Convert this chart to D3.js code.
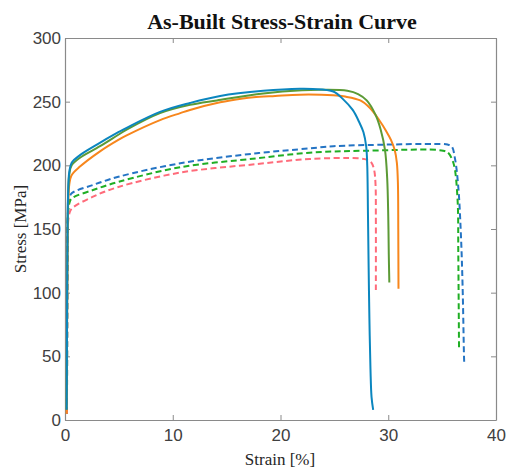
<!DOCTYPE html>
<html>
<head>
<meta charset="utf-8">
<script src="https://cdn.jsdelivr.net/npm/d3@7"></script>
<style>
  html, body { margin: 0; padding: 0; background: #fff; }
  svg { display: block; }
</style>
</head>
<body>
<div id="chart"></div>
<script>
// ---- Data (strain in %, stress in MPa) ----
const xTicks = [0, 10, 20, 30, 40];
const yTicks = [0, 50, 100, 150, 200, 250, 300];

const blueSolid = [[0.15,8],[0.18,60],[0.22,130],[0.28,175],[0.4,195],[0.62,202],[1.39,208],[3,216.5],[4.95,226],[5.72,229.5],[8.82,242],[11.6,249],[14.4,254.5],[18.4,258.5],[21.8,260.2],[23,260],[24.9,258],[25.8,252],[26.7,243.5],[27.3,234],[27.7,226],[27.95,215],[28.05,200],[28.12,160],[28.18,120],[28.25,80],[28.35,40],[28.45,18],[28.6,8]];
const greenSolid = [[0.15,8],[0.18,60],[0.22,130],[0.28,172],[0.4,193],[0.62,200],[1.39,206],[3.25,215],[4.95,224],[5.72,228],[8.82,241],[11.6,247.5],[14.1,251],[18.4,256.5],[22,259],[24,259.3],[26.2,258.5],[27.2,256],[28,251],[28.8,240],[29.3,228],[29.7,212],[29.9,190],[30,160],[30.05,130],[30.1,108]];
const orangeSolid = [[0.15,5],[0.18,50],[0.22,120],[0.3,170],[0.4,185],[0.6,192],[1.39,199],[3.25,211],[4.95,220],[5.72,223.5],[8.82,235.5],[10.7,241],[11.6,243.5],[14.4,249.5],[16.5,252.5],[17.5,253.5],[19.5,254.5],[21.8,255.5],[24.9,255],[26,254],[27.4,251],[28.3,245],[29.2,235],[29.8,227],[30.25,220],[30.6,212],[30.8,202],[30.9,185],[30.93,150],[30.95,103]];
const blueDashed = [[0.18,5],[0.2,60],[0.22,120],[0.26,160],[0.4,174],[0.62,178],[2.6,184.6],[4.95,191],[10.7,201.6],[17.8,209.5],[22.7,213.3],[24.9,215],[30,216.3],[34.2,216.8],[35.5,216.3],[35.9,214.7],[36.2,205],[36.5,183],[36.75,144],[36.9,105],[37.03,50],[37.05,45]];
const greenDashed = [[0.18,5],[0.2,60],[0.22,120],[0.26,157],[0.4,170],[0.62,174],[2.6,180.6],[4.95,187],[10.7,198.5],[17.8,205.5],[22.7,209.9],[28,211.5],[35.1,211.5],[35.6,209.5],[36,203],[36.2,196],[36.45,170],[36.5,131],[36.57,55]];
const redDashed = [[0.18,5],[0.2,60],[0.22,120],[0.26,152],[0.4,162],[0.62,166],[2.6,175.4],[4.95,183],[10.7,194.3],[17.8,201],[22.7,205],[27.2,205.5],[28,204.5],[28.45,202],[28.7,196],[28.82,185],[28.85,160],[28.85,102]];

const series = [
  {name: "blueDashed", data: blueDashed, color: "#2474c4", dash: "6,3.5"},
  {name: "greenDashed", data: greenDashed, color: "#1fae24", dash: "6,3.5"},
  {name: "redDashed", data: redDashed, color: "#ff6b7a", dash: "6,3.5"},
  {name: "orangeSolid", data: orangeSolid, color: "#f7861c", dash: null},
  {name: "greenSolid", data: greenSolid, color: "#5c9a36", dash: null},
  {name: "blueSolid", data: blueSolid, color: "#0b86bf", dash: null}
];

const W = 506, H = 468;
const m = {left: 65, right: 10, top: 38, bottom: 48};
const x = d3.scaleLinear().domain([0, 40]).range([m.left, W - m.right]);
const y = d3.scaleLinear().domain([0, 300]).range([H - m.bottom, m.top]);

const svg = d3.select("#chart").append("svg").attr("width", W).attr("height", H);
svg.append("rect").attr("width", W).attr("height", H).attr("fill", "#fff");

const axisColor = "#8a8a8a";
const tickColor = "#404040";
const tickLen = 5;

const gx = svg.append("g").attr("transform", `translate(0,${y(0)})`)
  .call(d3.axisBottom(x).tickValues(xTicks).tickSize(-tickLen).tickPadding(9).tickSizeOuter(0));
const gy = svg.append("g").attr("transform", `translate(${x(0)},0)`)
  .call(d3.axisLeft(y).tickValues(yTicks).tickSize(-tickLen).tickPadding(4).tickSizeOuter(0));
const gxt = svg.append("g").attr("transform", `translate(0,${y(300)})`)
  .call(d3.axisTop(x).tickValues(xTicks).tickSize(-tickLen).tickFormat("").tickSizeOuter(0));
const gyr = svg.append("g").attr("transform", `translate(${x(40)},0)`)
  .call(d3.axisRight(y).tickValues(yTicks).tickSize(-tickLen).tickFormat("").tickSizeOuter(0));

[gx, gy, gxt, gyr].forEach(g => {
  g.select(".domain").attr("stroke", axisColor).attr("stroke-width", 1.2);
  g.selectAll(".tick line").attr("stroke", axisColor);
  g.selectAll(".tick text").attr("fill", tickColor)
    .style("font-family", "'Liberation Sans', Arial, sans-serif").style("font-size", "17px");
});

const line = d3.line().x(d => x(d[0])).y(d => y(d[1])).curve(d3.curveCatmullRom.alpha(0.5));
const plot = svg.append("g");
series.forEach(s => {
  plot.append("path").datum(s.data)
    .attr("d", line)
    .attr("fill", "none")
    .attr("stroke", s.color)
    .attr("stroke-width", 2)
    .attr("stroke-dasharray", s.dash)
    .attr("stroke-linejoin", "round");
});

svg.append("text").attr("x", 282).attr("y", 29).attr("text-anchor", "middle")
  .style("font-family", "'Liberation Serif', 'Times New Roman', serif")
  .style("font-weight", "bold").style("font-size", "22px").attr("fill", "#111")
  .text("As-Built Stress-Strain Curve");
svg.append("text").attr("x", 280).attr("y", 465).attr("text-anchor", "middle")
  .style("font-family", "'Liberation Serif', 'Times New Roman', serif")
  .style("font-size", "17px").attr("fill", "#262626")
  .text("Strain [%]");
svg.append("text").attr("transform", "translate(26,229) rotate(-90)").attr("text-anchor", "middle")
  .style("font-family", "'Liberation Serif', 'Times New Roman', serif")
  .style("font-size", "17px").attr("fill", "#262626")
  .text("Stress [MPa]");
</script>
</body>
</html>
